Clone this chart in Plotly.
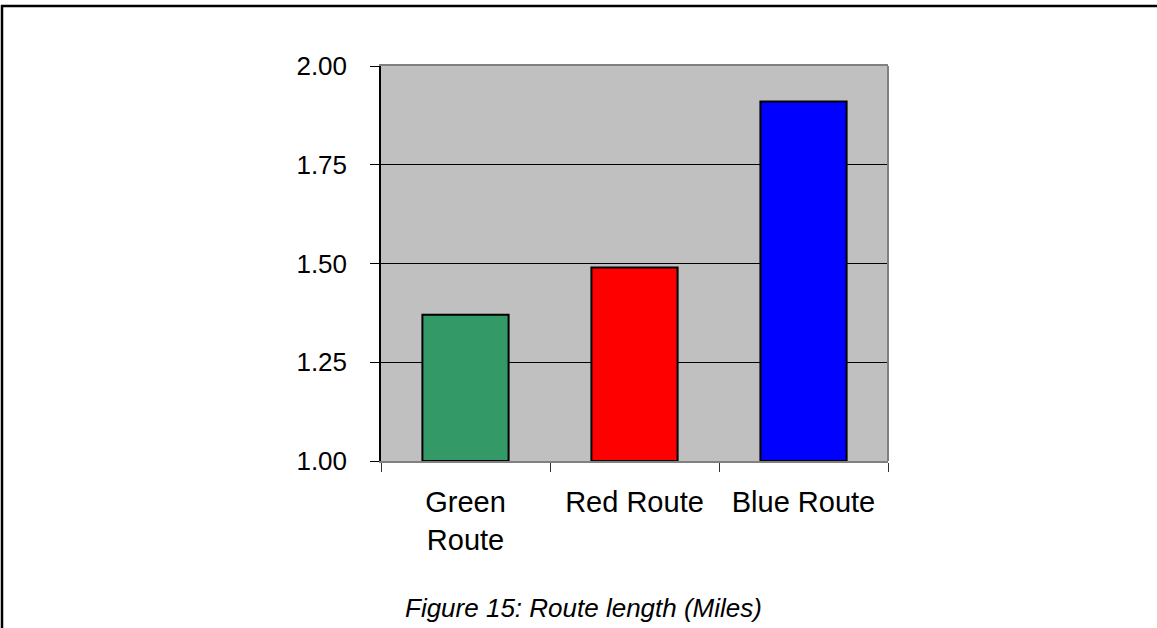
import plotly.graph_objects as go

# Route lengths in miles
routes = ["Green<br>Route", "Red Route", "Blue Route"]
miles = [1.37, 1.49, 1.91]
bar_colors = ["#339966", "#FF0000", "#0000FF"]
y_ticks = [1.00, 1.25, 1.50, 1.75, 2.00]
y_tick_text = ["1.00", "1.25", "1.50", "1.75", "2.00"]
caption = "Figure 15: Route length (Miles)"

W, H = 1157, 628
L, R, T, B = 381, 888, 66, 461  # plot area in pixels
pw, ph = R - L, B - T


def px_x(x):
    return (x - L) / pw


def px_y(y):
    return (B - y) / ph


fig = go.Figure(
    go.Bar(
        x=routes,
        y=[v - 1.0 for v in miles],
        base=1.0,
        marker=dict(color=bar_colors, line=dict(color="black", width=2)),
        width=0.51,
        hoverinfo="skip",
    )
)

font_main = "Liberation Sans, Arial, sans-serif"

fig.update_layout(
    width=W,
    height=H,
    margin=dict(l=L, r=W - R, t=T, b=H - B, pad=0),
    paper_bgcolor="white",
    plot_bgcolor="#C0C0C0",
    showlegend=False,
    font=dict(family=font_main, size=27, color="black"),
    xaxis=dict(
        type="category",
        tickson="boundaries",
        ticks="outside",
        ticklen=9,
        tickwidth=1,
        tickcolor="#333333",
        showline=True,
        linecolor="#808080",
        linewidth=2,
        mirror=True,
        showgrid=False,
        ticklabelstandoff=14,
        tickfont=dict(size=29, family=font_main, color="black"),
    ),
    yaxis=dict(
        range=[1.0, 2.0],
        tickvals=y_ticks,
        ticktext=y_tick_text,
        ticks="outside",
        ticklen=9,
        tickwidth=1,
        tickcolor="black",
        showline=True,
        linecolor="black",
        linewidth=1.5,
        showgrid=True,
        gridcolor="black",
        gridwidth=1,
        zeroline=False,
        ticklabelstandoff=18,
        tickfont=dict(size=26, family=font_main, color="black"),
    ),
    shapes=[
        # right edge of the plot area
        dict(type="line", xref="paper", yref="paper", x0=1, x1=1, y0=0, y1=1,
             line=dict(color="#808080", width=2)),
        # page frame: top and left rules
        dict(type="line", xref="paper", yref="paper",
             x0=px_x(1), x1=px_x(W), y0=px_y(6), y1=px_y(6),
             line=dict(color="black", width=2.5)),
        dict(type="line", xref="paper", yref="paper",
             x0=px_x(2), x1=px_x(2), y0=px_y(5), y1=px_y(H),
             line=dict(color="black", width=2.5)),
    ],
    annotations=[
        dict(
            text=caption,
            xref="paper", yref="paper",
            x=px_x(583), y=px_y(608),
            xanchor="center", yanchor="middle",
            showarrow=False,
            font=dict(family=font_main, size=26, color="black", style="italic"),
        )
    ],
)

fig.write_html("out.html")
